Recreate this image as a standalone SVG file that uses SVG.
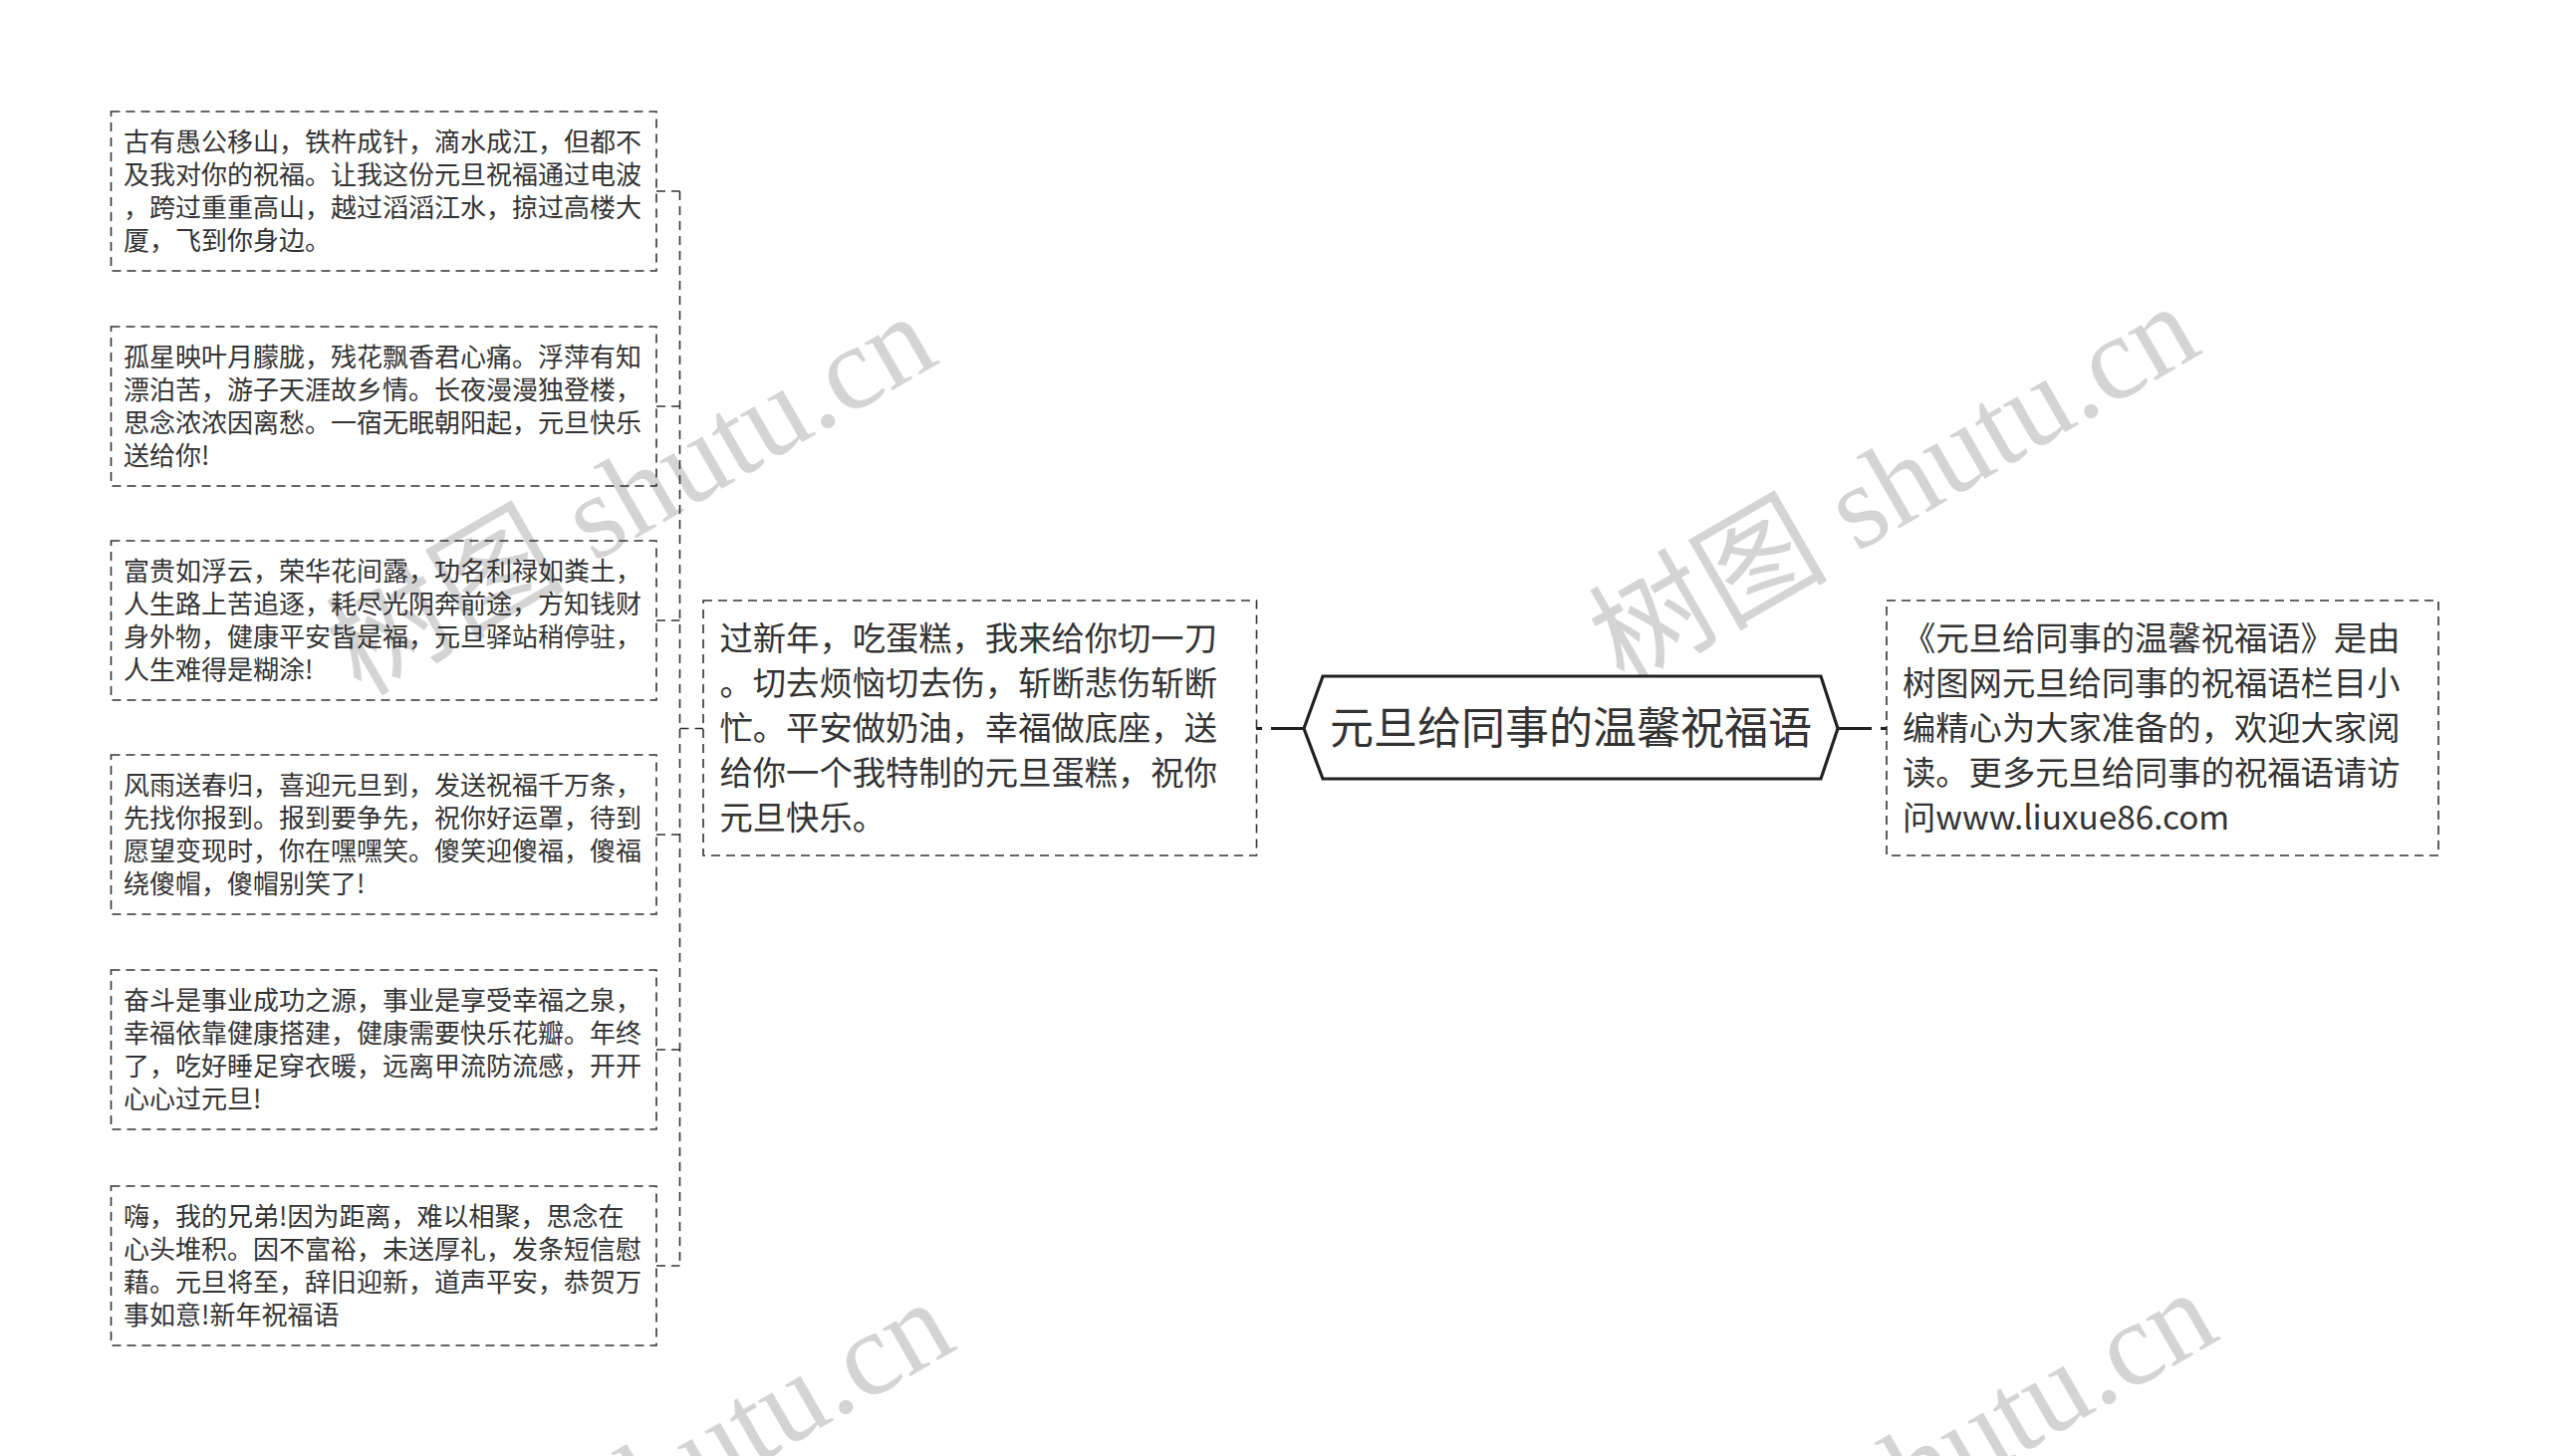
<svg xmlns="http://www.w3.org/2000/svg" width="2560" height="1462" viewBox="0 0 2560 1462">
<style>
.bg{fill:#ffffff}
.wm{font-family:"Liberation Serif","Noto Sans CJK SC",serif;font-size:120px;fill:#d4d4d4}
.box{fill:none;stroke:#333333;stroke-width:1.6;stroke-dasharray:9 6}
.t26{font-family:"Noto Sans CJK SC","Noto Sans",sans-serif;font-size:26px;fill:#333333}
.t33{font-family:"Noto Sans CJK SC","Noto Sans",sans-serif;font-size:33.3px;fill:#333333}
.root{fill:#ffffff;stroke:#222222;stroke-width:3.2;stroke-linejoin:miter}
.rootText{font-family:"Noto Sans CJK SC","Noto Sans",sans-serif;font-size:44px;fill:#333333;text-anchor:middle}
.dash{fill:none;stroke:#333333;stroke-width:1.6;stroke-dasharray:9 6}
.thick{fill:none;stroke:#222222;stroke-width:3.2}
</style>
<rect class="bg" x="0" y="0" width="2560" height="1462"/>
<g id="watermarks">
<text class="wm" transform="translate(362,700) rotate(-30)">树图 shutu.cn</text>
<text class="wm" transform="translate(1630,690) rotate(-30)">树图 shutu.cn</text>
<text class="wm" transform="translate(380,1690) rotate(-30)">树图 shutu.cn</text>
<text class="wm" transform="translate(1648,1680) rotate(-30)">树图 shutu.cn</text>
</g>
<g id="connectors">
<path class="dash" d="M682.5,192 V1271"/>
<path class="dash" d="M659,192 H682.5"/>
<path class="dash" d="M659,408 H682.5"/>
<path class="dash" d="M659,623 H682.5"/>
<path class="dash" d="M659,838 H682.5"/>
<path class="dash" d="M659,1054 H682.5"/>
<path class="dash" d="M659,1271 H682.5"/>
<path class="dash" d="M682.5,731.5 H706"/>
<path class="thick" d="M1309,731.5 H1261" stroke-dasharray="33 9 6 40"/>
<path class="thick" d="M1845,731.5 H1894" stroke-dasharray="34 9 6 40"/>
</g>
<g id="leaf1">
<rect class="box" x="111.5" y="112" width="547.5" height="160"/>
<text class="t26" x="124" y="151.5">古有愚公移山，铁杵成针，滴水成江，但都不</text>
<text class="t26" x="124" y="184.8">及我对你的祝福。让我这份元旦祝福通过电波</text>
<text class="t26" x="124" y="218.1">，跨过重重高山，越过滔滔江水，掠过高楼大</text>
<text class="t26" x="124" y="251.4">厦，飞到你身边。</text>
</g>
<g id="leaf2">
<rect class="box" x="111.5" y="328" width="547.5" height="160"/>
<text class="t26" x="124" y="367.5">孤星映叶月朦胧，残花飘香君心痛。浮萍有知</text>
<text class="t26" x="124" y="400.8">漂泊苦，游子天涯故乡情。长夜漫漫独登楼，</text>
<text class="t26" x="124" y="434.1">思念浓浓因离愁。一宿无眠朝阳起，元旦快乐</text>
<text class="t26" x="124" y="467.4">送给你!</text>
</g>
<g id="leaf3">
<rect class="box" x="111.5" y="543" width="547.5" height="160"/>
<text class="t26" x="124" y="582.5">富贵如浮云，荣华花间露，功名利禄如粪土，</text>
<text class="t26" x="124" y="615.8">人生路上苦追逐，耗尽光阴奔前途，方知钱财</text>
<text class="t26" x="124" y="649.1">身外物，健康平安皆是福，元旦驿站稍停驻，</text>
<text class="t26" x="124" y="682.4">人生难得是糊涂!</text>
</g>
<g id="leaf4">
<rect class="box" x="111.5" y="758" width="547.5" height="160"/>
<text class="t26" x="124" y="797.5">风雨送春归，喜迎元旦到，发送祝福千万条，</text>
<text class="t26" x="124" y="830.8">先找你报到。报到要争先，祝你好运罩，待到</text>
<text class="t26" x="124" y="864.1">愿望变现时，你在嘿嘿笑。傻笑迎傻福，傻福</text>
<text class="t26" x="124" y="897.4">绕傻帽，傻帽别笑了!</text>
</g>
<g id="leaf5">
<rect class="box" x="111.5" y="974" width="547.5" height="160"/>
<text class="t26" x="124" y="1013.5">奋斗是事业成功之源，事业是享受幸福之泉，</text>
<text class="t26" x="124" y="1046.8">幸福依靠健康搭建，健康需要快乐花瓣。年终</text>
<text class="t26" x="124" y="1080.1">了，吃好睡足穿衣暖，远离甲流防流感，开开</text>
<text class="t26" x="124" y="1113.4">心心过元旦!</text>
</g>
<g id="leaf6">
<rect class="box" x="111.5" y="1191" width="547.5" height="160"/>
<text class="t26" x="124" y="1230.5">嗨，我的兄弟!因为距离，难以相聚，思念在</text>
<text class="t26" x="124" y="1263.8">心头堆积。因不富裕，未送厚礼，发条短信慰</text>
<text class="t26" x="124" y="1297.1">藉。元旦将至，辞旧迎新，道声平安，恭贺万</text>
<text class="t26" x="124" y="1330.4">事如意!新年祝福语</text>
</g>
<g id="branch">
<rect class="box" x="706" y="603" width="555.5" height="256"/>
<text class="t33" x="722.5" y="652.5">过新年，吃蛋糕，我来给你切一刀</text>
<text class="t33" x="722.5" y="697.5">。切去烦恼切去伤，斩断悲伤斩断</text>
<text class="t33" x="722.5" y="742.5">忙。平安做奶油，幸福做底座，送</text>
<text class="t33" x="722.5" y="787.5">给你一个我特制的元旦蛋糕，祝你</text>
<text class="t33" x="722.5" y="832.5">元旦快乐。</text>
</g>
<g id="root">
<path class="root" d="M1309,731.5 L1328,679 L1828,679 L1845,731.5 L1828,782 L1328,782 Z"/>
<text class="rootText" x="1577" y="747">元旦给同事的温馨祝福语</text>
</g>
<g id="summary">
<rect class="box" x="1894" y="603" width="554" height="256"/>
<text class="t33" x="1910" y="652.5">《元旦给同事的温馨祝福语》是由</text>
<text class="t33" x="1910" y="697.5">树图网元旦给同事的祝福语栏目小</text>
<text class="t33" x="1910" y="742.5">编精心为大家准备的，欢迎大家阅</text>
<text class="t33" x="1910" y="787.5">读。更多元旦给同事的祝福语请访</text>
<text class="t33" x="1910" y="832.5">问www.liuxue86.com</text>
</g>
</svg>
